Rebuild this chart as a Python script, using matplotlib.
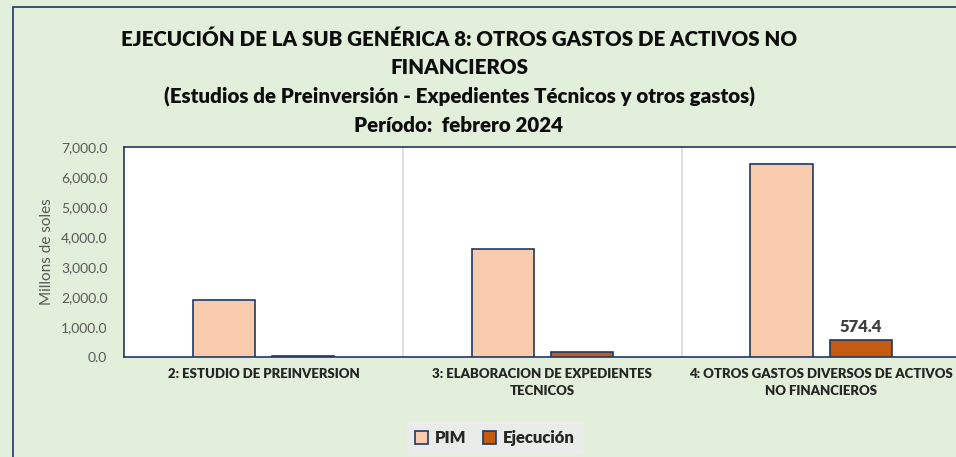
import matplotlib.pyplot as plt
import numpy as np
from matplotlib.patches import Rectangle

categories = ["2: ESTUDIO DE PREINVERSION",
              "3: ELABORACION DE EXPEDIENTES\nTECNICOS",
              "4: OTROS GASTOS DIVERSOS DE ACTIVOS\nNO FINANCIEROS"]
pim = [1890.0, 3610.0, 6420.0]
ejecucion = [45.0, 165.0, 574.4]
yticks = [0, 1000, 2000, 3000, 4000, 5000, 6000, 7000]

plt.rcParams['font.family'] = ['Lato', 'DejaVu Sans']

bg = '#e2efda'
navy = '#1f3864'

fig = plt.figure(figsize=(9.56, 4.57), dpi=100)
fig.patch.set_facecolor(bg)
# outer chart frame (only left/top visible in the crop)
fig.patches.append(Rectangle((13/956, -0.1), 1.2, 1 - 7/457 + 0.1, transform=fig.transFigure,
                             fill=False, edgecolor=navy, linewidth=1.2))

ax = fig.add_axes([124/956, 1 - 357/457, 0.875, 210/457])
x = np.arange(len(categories))
w = 0.223
off = 0.142
ax.bar(x - off, pim, w, color='#f8cbad', edgecolor=navy, linewidth=1.2, label='PIM', zorder=3)
ax.bar(x + off, ejecucion, w, color='#c55a11', edgecolor=navy, linewidth=1.2, label='Ejecución', zorder=3)

ax.text(x[2] + off, ejecucion[2] + 150, '574.4', ha='center', va='bottom',
        fontsize=12, fontweight='heavy', color='#404040')

ax.set_xlim(-0.5, 2.5)
ax.set_ylim(0, 7000)
ax.set_yticks(yticks)
ax.set_yticklabels([f"{v:,.1f}" for v in yticks], fontsize=10, color='#595959')
ax.set_xticks(x)
ax.set_xticklabels(categories, fontsize=9.5, fontweight='heavy', color='#262626', linespacing=1.45)
ax.tick_params(axis='y', length=0, pad=12)
ax.tick_params(axis='x', length=0, pad=8)
for xv in [0.5, 1.5]:
    ax.axvline(xv, color='#d9d9d9', linewidth=1.2, zorder=1)
for s in ['left', 'bottom', 'top']:
    ax.spines[s].set_color(navy)
    ax.spines[s].set_linewidth(1.2)
ax.spines['right'].set_visible(False)
ax.set_ylabel('Millons de soles', fontsize=11, color='#595959', labelpad=5)

titles = ["EJECUCIÓN DE LA SUB GENÉRICA 8: OTROS GASTOS DE ACTIVOS NO",
          "FINANCIEROS",
          "(Estudios de Preinversión - Expedientes Técnicos y otros gastos)",
          "Período:  febrero 2024"]
for i, t in enumerate(titles):
    fig.text(459/956, 1 - (39 + 29 * i)/457, t, ha='center', va='center',
             fontsize=14.8, fontweight='heavy', color='#0d0d0d')

leg = fig.legend(loc='center', bbox_to_anchor=(495/956, 1 - 438/457), ncol=2,
                 frameon=True, fontsize=12, handlelength=0.8, handleheight=0.8,
                 handletextpad=0.4, columnspacing=1.0, borderpad=0.5)
leg.get_frame().set_facecolor('#ececec')
leg.get_frame().set_edgecolor('#ececec')
for t in leg.get_texts():
    t.set_fontweight('heavy')
    t.set_color('#262626')

fig.savefig('out.png', dpi=100, facecolor=bg)
